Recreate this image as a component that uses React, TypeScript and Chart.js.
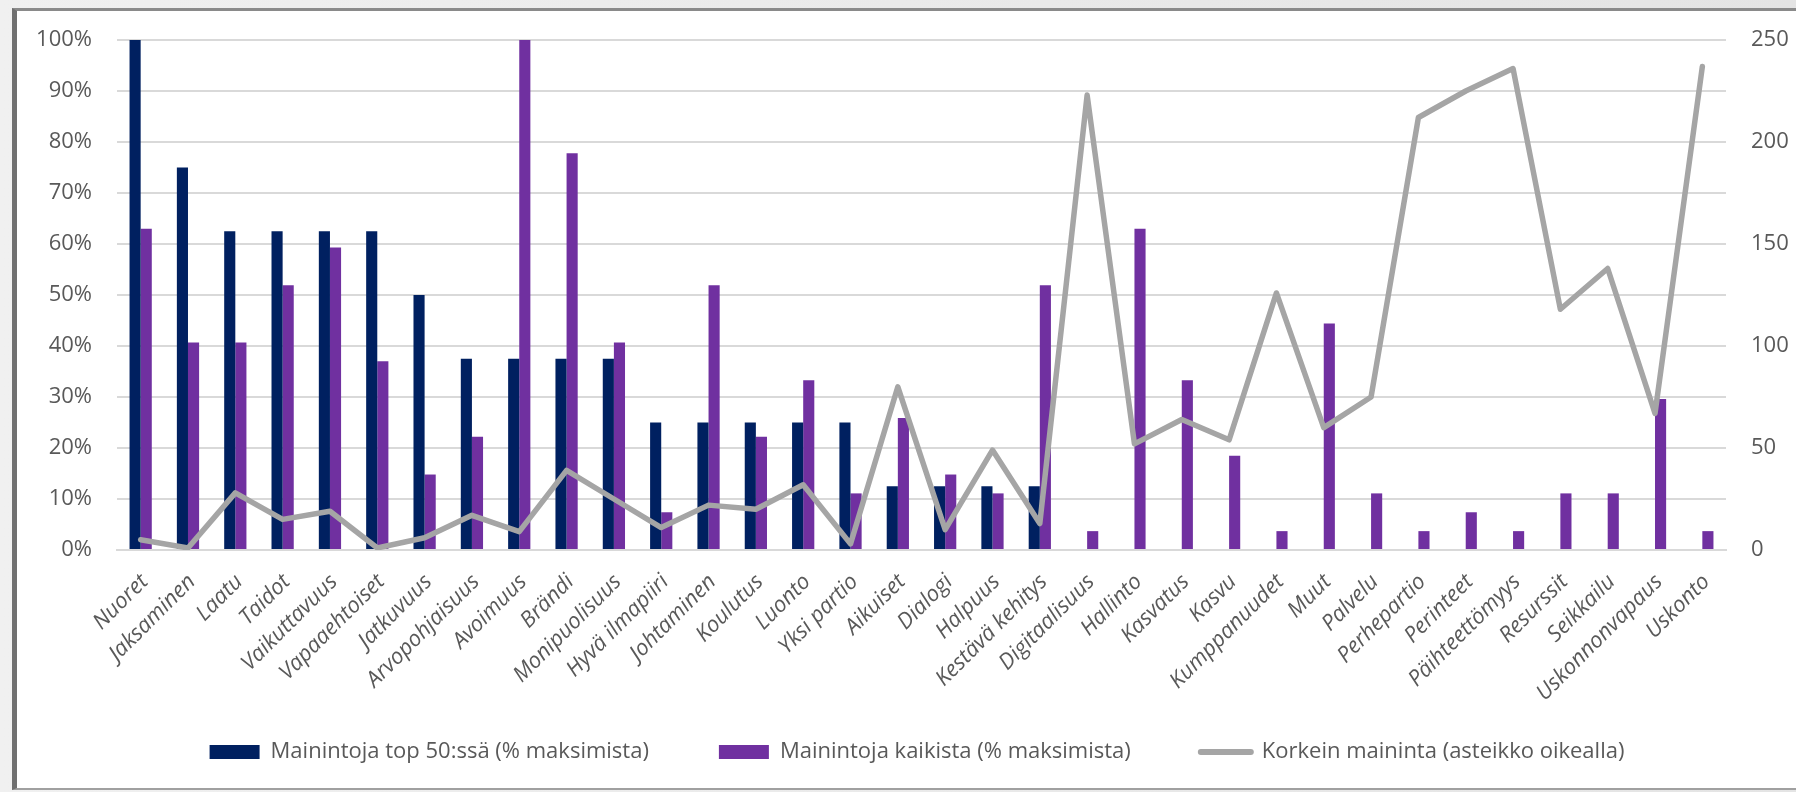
import React, { useEffect, useRef } from "react";
import { Chart, registerables } from "chart.js";

Chart.register(...registerables);

const categories = [
  "Nuoret", "Jaksaminen", "Laatu", "Taidot", "Vaikuttavuus", "Vapaaehtoiset",
  "Jatkuvuus", "Arvopohjaisuus", "Avoimuus", "Brändi", "Monipuolisuus",
  "Hyvä ilmapiiri", "Johtaminen", "Koulutus", "Luonto", "Yksi partio",
  "Aikuiset", "Dialogi", "Halpuus", "Kestävä kehitys", "Digitaalisuus",
  "Hallinto", "Kasvatus", "Kasvu", "Kumppanuudet", "Muut", "Palvelu",
  "Perhepartio", "Perinteet", "Päihteettömyys", "Resurssit", "Seikkailu",
  "Uskonnonvapaus", "Uskonto",
];

// Mainintoja top 50:ssä (% maksimista)
const top50Pct = [
  100, 75, 62.5, 62.5, 62.5, 62.5, 50, 37.5, 37.5, 37.5, 37.5,
  25, 25, 25, 25, 25, 12.5, 12.5, 12.5, 12.5, 0,
  0, 0, 0, 0, 0, 0, 0, 0, 0, 0, 0, 0, 0,
];

// Mainintoja kaikista (% maksimista)
const allPct = [
  63.0, 40.7, 40.7, 51.9, 59.3, 37.0, 14.8, 22.2, 100, 77.8, 40.7,
  7.4, 51.9, 22.2, 33.3, 11.1, 25.9, 14.8, 11.1, 51.9, 3.7,
  63.0, 33.3, 18.5, 3.7, 44.4, 11.1, 3.7, 7.4, 3.7, 11.1, 11.1, 29.6, 3.7,
];

// Korkein maininta (asteikko oikealla)
const highest = [
  5, 1, 28, 15, 19, 1, 6, 17, 9, 39, 25,
  11, 22, 20, 32, 3, 80, 10, 49, 13, 223,
  52, 64, 54, 126, 60, 75, 212, 225, 236, 118, 138, 67, 237,
];

const leftTicksMax = 100;
const rightTicksMax = 250;

const seriesLabels = [
  "Mainintoja top 50:ssä (% maksimista)",
  "Mainintoja kaikista (% maksimista)",
  "Korkein maininta (asteikko oikealla)",
];

const NAVY = "#002060";
const PURPLE = "#7030A0";
const GRAY_LINE = "#A5A5A5";
const TEXT = "#595959";
const GRID = "#D9D9D9";
const FONT = "'Open Sans'";

const unclipXLabels = {
  id: "unclipXLabels",
  afterLayout(chart: any) {
    const xs = chart.scales && chart.scales.x;
    if (xs) xs._computeLabelArea = () => undefined;
  },
};

export default function App() {
  const canvasRef = useRef<HTMLCanvasElement | null>(null);

  useEffect(() => {
    let chart: any = null;
    let cancelled = false;
    const make = () => {
      if (cancelled || !canvasRef.current) return;
      chart = new Chart(canvasRef.current, {
        type: "bar",
        data: {
          labels: categories,
          datasets: [
            {
              type: "bar",
              label: seriesLabels[0],
              data: top50Pct,
              backgroundColor: NAVY,
              yAxisID: "y",
              order: 1,
              categoryPercentage: 0.47,
              barPercentage: 1,
            },
            {
              type: "bar",
              label: seriesLabels[1],
              data: allPct,
              backgroundColor: PURPLE,
              yAxisID: "y",
              order: 1,
              categoryPercentage: 0.47,
              barPercentage: 1,
            },
            {
              type: "line",
              label: seriesLabels[2],
              data: highest,
              borderColor: GRAY_LINE,
              backgroundColor: GRAY_LINE,
              borderWidth: 5.5,
              pointRadius: 0,
              tension: 0,
              borderJoinStyle: "round",
              borderCapStyle: "round",
              yAxisID: "y1",
              order: 0,
            },
          ],
        } as any,
        plugins: [unclipXLabels],
        options: {
          responsive: false,
          animation: false,
          devicePixelRatio: 1,
          layout: { padding: { left: 38, top: 40, right: 0, bottom: 19 } },
          plugins: {
            tooltip: { enabled: false },
            legend: {
              position: "bottom",
              labels: {
                usePointStyle: true,
                pointStyleWidth: 50,
                boxHeight: 14,
                padding: 70,
                color: TEXT,
                font: { family: FONT, size: 22 },
                sort: (a: any, b: any) => a.datasetIndex - b.datasetIndex,
                generateLabels: (c: any) =>
                  c.data.datasets.map((ds: any, i: number) => ({
                    text: ds.label,
                    fillStyle: i === 2 ? "rgba(0,0,0,0)" : ds.backgroundColor,
                    strokeStyle: i === 2 ? GRAY_LINE : ds.backgroundColor,
                    lineWidth: i === 2 ? 6 : 0,
                    lineCap: "round",
                    pointStyle: i === 2 ? "line" : "rect",
                    hidden: false,
                    datasetIndex: i,
                    fontColor: TEXT,
                  })),
              },
            },
          },
          scales: {
            x: {
              grid: { display: false, drawTicks: false },
              border: { display: true, color: GRID, width: 2 },
              ticks: {
                autoSkip: false,
                maxRotation: 45,
                minRotation: 45,
                padding: 19,
                labelOffset: 4,
                color: TEXT,
                font: { family: FONT, size: 22, style: "italic" },
              },
              afterFit: (s: any) => {
                s.height = 121;
              },
            },
            y: {
              position: "left",
              min: 0,
              max: leftTicksMax,
              ticks: {
                stepSize: 10,
                padding: 25,
                color: TEXT,
                font: { family: FONT, size: 22 },
                callback: (v: any) => v + "%",
              },
              grid: { color: GRID, lineWidth: 2, drawTicks: false },
              border: { display: false },
              afterFit: (s: any) => {
                s.width = 79;
              },
            },
            y1: {
              position: "right",
              min: 0,
              max: rightTicksMax,
              ticks: {
                stepSize: 50,
                padding: 25,
                color: TEXT,
                font: { family: FONT, size: 22 },
              },
              grid: { drawOnChartArea: false, drawTicks: false },
              border: { display: false },
              afterFit: (s: any) => {
                s.width = 70;
              },
            },
          },
        } as any,
      });
    };
    const fontsApi = (document as any).fonts;
    if (fontsApi && fontsApi.load) {
      Promise.all([
        fontsApi.load("22px 'Open Sans'"),
        fontsApi.load("italic 22px 'Open Sans'"),
      ]).then(make, make);
    } else {
      make();
    }
    return () => {
      cancelled = true;
      if (chart) chart.destroy();
    };
  }, []);

  return (
    <div
      style={{
        position: "absolute",
        left: 0,
        top: 0,
        width: 1796,
        height: 792,
        overflow: "hidden",
        background: "linear-gradient(90deg, #f0f0f0, #e4e4e4)",
      }}
    >
      <div
        style={{
          position: "absolute",
          left: 12,
          top: 8,
          width: 1800,
          height: 782,
          background: "#ffffff",
          borderLeft: "5px solid #707070",
          borderTop: "3px solid #8a8a8a",
          borderBottom: "2px solid #a0a0a0",
          boxSizing: "border-box",
        }}
      />
      <canvas
        ref={canvasRef}
        width={1796}
        height={792}
        style={{ position: "absolute", left: 0, top: 0, width: 1796, height: 792 }}
      />
    </div>
  );
}
